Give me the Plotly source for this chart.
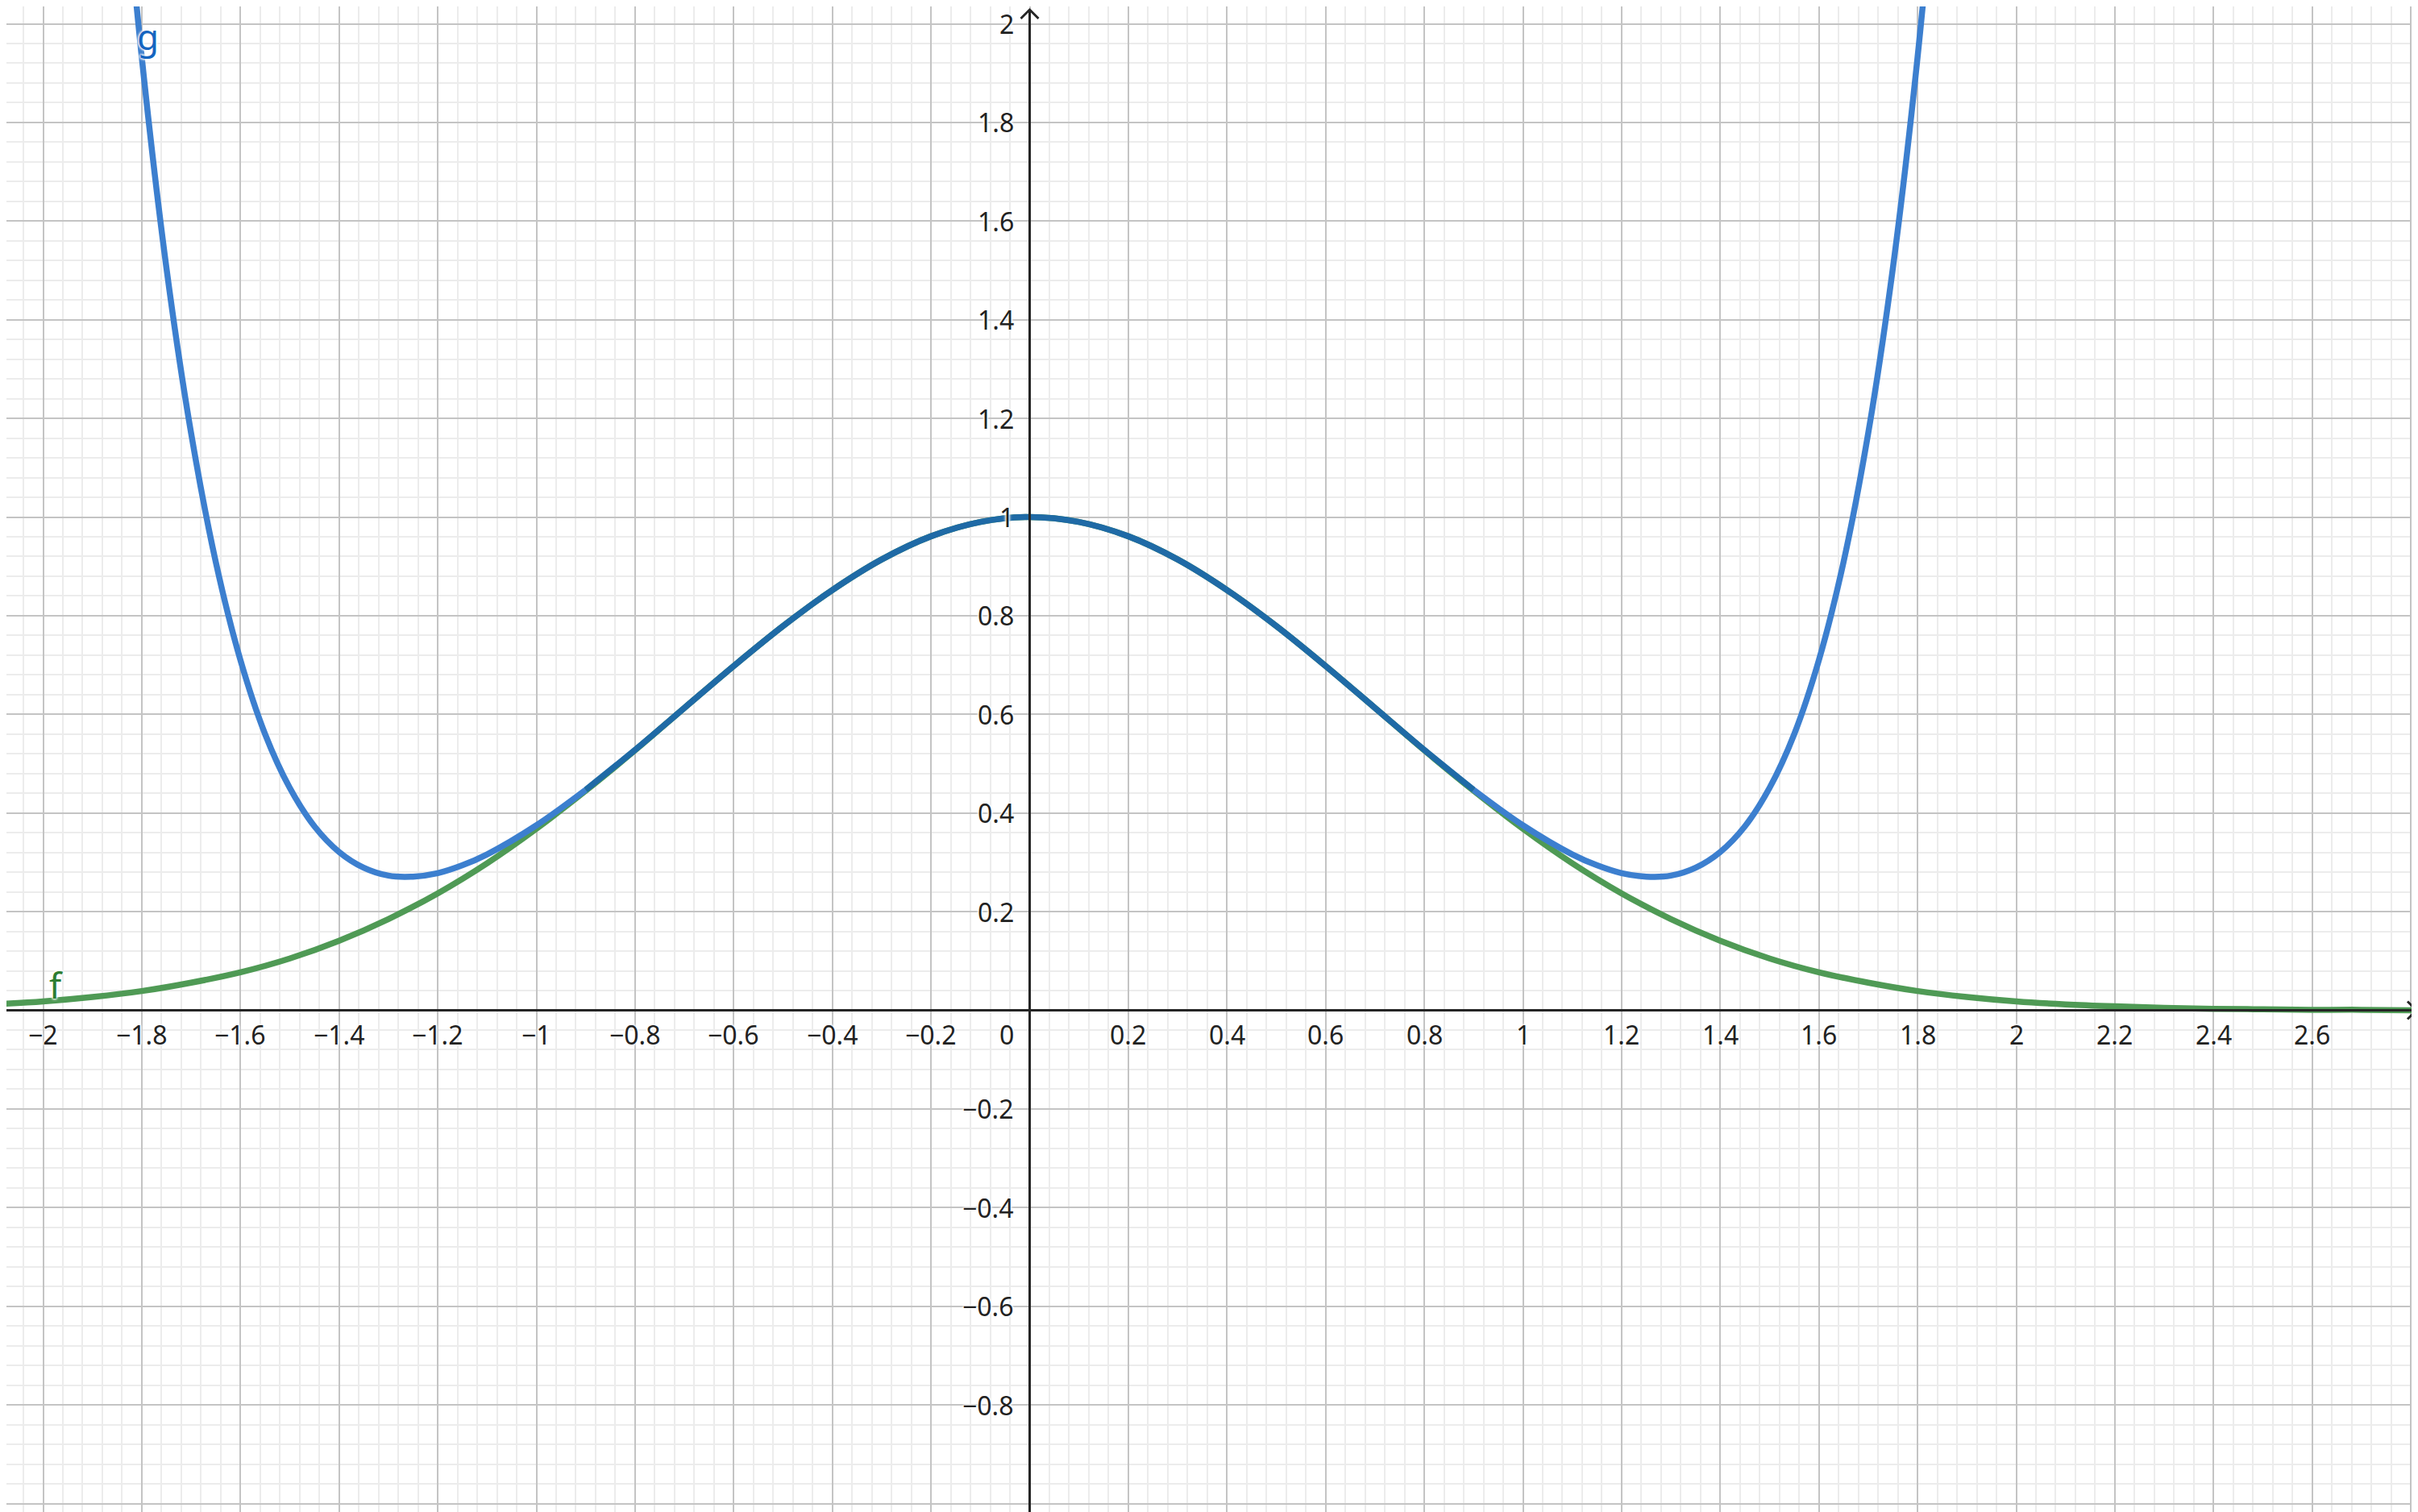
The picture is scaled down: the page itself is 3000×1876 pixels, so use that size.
import plotly.graph_objects as go

# f: bell curve
f_x = [-2.1, -2.0, -1.9, -1.8, -1.7, -1.6, -1.5, -1.4, -1.3, -1.2, -1.1, -1.0,
       -0.9, -0.8, -0.7, -0.6, -0.5, -0.4, -0.3, -0.2, -0.1, 0.0,
       0.1, 0.2, 0.3, 0.4, 0.5, 0.6, 0.7, 0.8, 0.9, 1.0,
       1.1, 1.2, 1.3, 1.4, 1.5, 1.6, 1.7, 1.8, 1.9, 2.0,
       2.1, 2.2, 2.3, 2.4, 2.5, 2.6, 2.7, 2.8, 2.9]
f_y = [0.012, 0.018, 0.027, 0.039, 0.056, 0.077, 0.105, 0.141, 0.185, 0.237, 0.298, 0.368,
       0.445, 0.527, 0.613, 0.698, 0.779, 0.852, 0.914, 0.961, 0.990, 1.000,
       0.990, 0.961, 0.914, 0.852, 0.779, 0.698, 0.613, 0.527, 0.445, 0.368,
       0.298, 0.237, 0.185, 0.141, 0.105, 0.077, 0.056, 0.039, 0.027, 0.018,
       0.012, 0.008, 0.005, 0.003, 0.002, 0.001, 0.001, 0.000, 0.000]

# g: polynomial approximation
g_x = [-1.85, -1.8, -1.75, -1.7, -1.65, -1.6, -1.55, -1.5, -1.45, -1.4, -1.35, -1.3, -1.25,
       -1.2, -1.15, -1.1, -1.0,
       -0.9, -0.8, -0.7, -0.6, -0.5, -0.4, -0.3, -0.2, -0.1, 0.0,
       0.1, 0.2, 0.3, 0.4, 0.5, 0.6, 0.7, 0.8, 0.9,
       1.0, 1.1, 1.15, 1.2, 1.25, 1.3, 1.35, 1.4, 1.45, 1.5, 1.55, 1.6, 1.65, 1.7, 1.75, 1.8, 1.85]
g_y = [2.470, 1.932, 1.505, 1.170, 0.909, 0.710, 0.560, 0.451, 0.373, 0.321, 0.289, 0.273, 0.271,
       0.278, 0.294, 0.316, 0.375,
       0.447, 0.528, 0.613, 0.698, 0.779, 0.852, 0.914, 0.961, 0.990, 1.000,
       0.990, 0.961, 0.914, 0.852, 0.779, 0.698, 0.613, 0.528, 0.447,
       0.375, 0.316, 0.294, 0.278, 0.271, 0.273, 0.289, 0.321, 0.373, 0.451, 0.560, 0.710, 0.909,
       1.170, 1.505, 1.932, 2.470]

x_ticks = [-2, -1.8, -1.6, -1.4, -1.2, -1, -0.8, -0.6, -0.4, -0.2,
           0.2, 0.4, 0.6, 0.8, 1, 1.2, 1.4, 1.6, 1.8, 2, 2.2, 2.4, 2.6]
y_ticks = [2, 1.8, 1.6, 1.4, 1.2, 1, 0.8, 0.6, 0.4, 0.2,
           -0.2, -0.4, -0.6, -0.8]

W, H = 3000, 1876
OFF = 8  # page body margin
unit = 612.0
x0px, y0px = 1277.5 - OFF, 1253.5 - OFF
x_range = [-x0px / unit, (W - x0px) / unit]
y_range = [-(H - y0px) / unit, y0px / unit]
px = 1 / unit
x_vis = (W - OFF - x0px) / unit   # right edge visible in the window
y_vis = y0px / unit

BLUE = "#3c7fcf"
BLUE_DARK = "#1f6aa6"
GREEN = "#4f9a55"
AXIS = "#252525"


def fmt(v):
    s = ("%g" % v)
    return s.replace("-", "\u2212")


fig = go.Figure()

fig.add_trace(go.Scatter(x=f_x, y=f_y, mode="lines", line=dict(color=GREEN, width=7.5, shape="spline"),
                         hoverinfo="skip", showlegend=False))

# g: outer parts in light blue, middle part (on top of f) darker
left = [i for i, v in enumerate(g_x) if v <= -0.9]
mid = [i for i, v in enumerate(g_x) if -0.9 <= v <= 0.9]
right = [i for i, v in enumerate(g_x) if v >= 0.9]
for idx, col in [(left, BLUE), (right, BLUE), (mid, BLUE_DARK)]:
    fig.add_trace(go.Scatter(x=[g_x[i] for i in idx], y=[g_y[i] for i in idx], mode="lines",
                             line=dict(color=col, width=7.5, shape="spline"),
                             hoverinfo="skip", showlegend=False))

# axes with arrow heads
xt = x_vis - 2 * px
yt = y_vis - 4 * px
fig.add_shape(type="line", x0=x_range[0], x1=xt, y0=0, y1=0,
              line=dict(color=AXIS, width=3), layer="above")
fig.add_shape(type="line", x0=0, x1=0, y0=y_range[0], y1=yt,
              line=dict(color=AXIS, width=3), layer="above")
fig.add_trace(go.Scatter(x=[xt - 11 * px, xt, xt - 11 * px], y=[11 * px, 0, -11 * px], mode="lines",
                         line=dict(color=AXIS, width=3), hoverinfo="skip", showlegend=False))
fig.add_trace(go.Scatter(x=[-11 * px, 0, 11 * px], y=[yt - 11 * px, yt, yt - 11 * px], mode="lines",
                         line=dict(color=AXIS, width=3), hoverinfo="skip", showlegend=False))

halo = "0px 0px 3px white, 0px 0px 3px white, 0px 0px 3px white, 0px 0px 4px white"
lab_font = dict(family="Noto Sans, Open Sans, sans-serif", size=32, color="#222222", shadow=halo)

annotations = []
for v in x_ticks:
    annotations.append(dict(x=v, y=0, xref="x", yref="y", text=fmt(v), showarrow=False,
                            xanchor="center", yanchor="middle", yshift=-30, font=lab_font))
for v in y_ticks:
    annotations.append(dict(x=0, y=v, xref="x", yref="y", text=fmt(v), showarrow=False,
                            xanchor="right", yanchor="middle", xshift=-18, font=lab_font))
annotations.append(dict(x=0, y=0, xref="x", yref="y", text="0", showarrow=False,
                        xanchor="right", yanchor="middle", xshift=-18, yshift=-30, font=lab_font))

annotations.append(dict(x=-1.973, y=0.052, xref="x", yref="y", text="f", showarrow=False,
                        xanchor="center", yanchor="middle",
                        font=dict(family="Noto Sans, sans-serif", size=44, color="#2e7d32", shadow=halo)))
annotations.append(dict(x=-1.788, y=1.975, xref="x", yref="y", text="g", showarrow=False,
                        xanchor="center", yanchor="middle",
                        font=dict(family="Noto Sans, sans-serif", size=44, color="#1565c0", shadow=halo)))

grid = dict(showgrid=True, gridcolor="#c4c4c4", gridwidth=2, dtick=0.2, tick0=0,
            zeroline=False, showticklabels=False, ticks="", showline=False,
            minor=dict(showgrid=True, dtick=0.04, tick0=0, gridcolor="#ececec", gridwidth=2))

fig.update_layout(
    width=W, height=H,
    margin=dict(l=0, r=0, t=0, b=0),
    paper_bgcolor="white", plot_bgcolor="white",
    xaxis=dict(range=x_range, **grid),
    yaxis=dict(range=y_range, **grid),
    annotations=annotations,
    showlegend=False,
)

fig.write_html("out.html")
